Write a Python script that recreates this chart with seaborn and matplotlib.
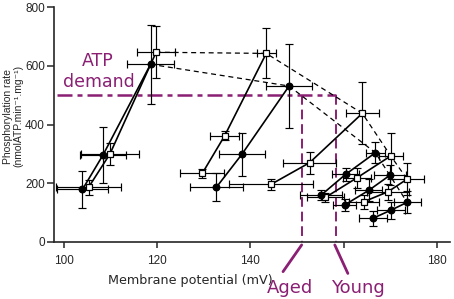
import numpy as np
import pandas as pd
import matplotlib
matplotlib.use("Agg")
import matplotlib.pyplot as plt
import seaborn as sns

sns.set_style("ticks")
plt.rcParams['font.family'] = ['DejaVu Sans']

# ---- data (membrane potential mV, phosphorylation rate, errors) ----
# filled circles (aged)
A_x  = [104.0, 108.4, 118.6];  A_y  = [179, 296, 605]
A_xe = [5.5, 5.0, 5.0];        A_ye = [62, 94, 134]
D_x  = [132.7, 138.2, 148.3];  D_y  = [186, 299, 531]
D_xe = [5.7, 4.9, 5.0];        D_ye = [48, 73, 143]
F1_x = [155.2, 160.4, 166.8];  F1_y = [160, 230, 304]
F1_xe = [4.5, 2.9, 2.0];       F1_ye = [17, 23, 36]
F2_x = [160.2, 165.4, 169.9];  F2_y = [126, 176, 227]
F2_xe = [2.5, 2.9, 3.4];       F2_ye = [20, 37, 34]
F3_x = [166.3, 170.1, 173.6];  F3_y = [81, 108, 135]
F3_xe = [3.0, 3.0, 2.9];       F3_ye = [26, 28, 37]

# open squares (young)
B_x  = [105.3, 109.9, 119.8];  B_y  = [186, 300, 646]
B_xe = [7.0, 6.3, 4.0];        B_ye = [25, 37, 89]
C_x  = [129.7, 134.5, 143.4];  C_y  = [234, 362, 642]
C_xe = [4.7, 3.1, 2.0];        C_ye = [15, 15, 85]
E_x  = [144.4, 152.7, 164.0];  E_y  = [196, 270, 438]
E_xe = [9.0, 5.6, 3.5];        E_ye = [20, 38, 106]
O1_x = [156.1, 162.9, 170.1];  O1_y = [152, 219, 293]
O1_xe = [4.0, 3.0, 2.6];       O1_ye = [15, 34, 78]
O2_x = [164.3, 169.5, 173.6];  O2_y = [137, 171, 214]
O2_xe = [3.2, 4.6, 3.6];       O2_ye = [23, 28, 54]

filled = [(A_x, A_y, A_xe, A_ye), (D_x, D_y, D_xe, D_ye), (F1_x, F1_y, F1_xe, F1_ye),
          (F2_x, F2_y, F2_xe, F2_ye), (F3_x, F3_y, F3_xe, F3_ye)]
opened = [(B_x, B_y, B_xe, B_ye), (C_x, C_y, C_xe, C_ye), (E_x, E_y, E_xe, E_ye),
          (O1_x, O1_y, O1_xe, O1_ye), (O2_x, O2_y, O2_xe, O2_ye)]

atp_demand = 500
aged_mv = 151.1
young_mv = 158.3

x_ticks = [100, 120, 140, 160, 180]
x_ticklabels = ["100", "120", "140", "", "180"]
y_ticks = [0, 200, 400, 600, 800]

purple = "#8a1f73"

fig = plt.figure(figsize=(4.54, 2.99), dpi=100)
ax = fig.add_axes([54/454, 1-242/299, 396/454, 235/299])

# dashed lines connecting top (maximal) points
top_f = pd.DataFrame({"x": [s[0][-1] for s in filled], "y": [s[1][-1] for s in filled]})
top_o = pd.DataFrame({"x": [s[0][-1] for s in opened], "y": [s[1][-1] for s in opened]})
for df in (top_f, top_o):
    sns.lineplot(data=df, x="x", y="y", sort=False, estimator=None, ax=ax,
                 color="black", lw=0.9, dashes=False, linestyle=(0, (4, 3)), zorder=2)

def draw(series, marker, mfc, ms):
    for xs, ys, xe, ye in series:
        ax.errorbar(xs, ys, xerr=xe, yerr=ye, fmt="none", ecolor="black",
                    elinewidth=0.85, capsize=2.6, capthick=0.85, zorder=3)
        df = pd.DataFrame({"x": xs, "y": ys})
        sns.lineplot(data=df, x="x", y="y", sort=False, estimator=None, ax=ax,
                     color="black", lw=1.2, marker=marker, markersize=ms,
                     markerfacecolor=mfc, markeredgecolor="black",
                     markeredgewidth=0.9, zorder=4)

draw(opened, "s", "white", 4.3)
draw(filled, "o", "black", 4.8)

# ATP demand / aged / young annotations
ax.plot([98.5, young_mv], [atp_demand, atp_demand], color=purple, lw=1.8,
        linestyle=(0, (6, 2, 2, 2)), zorder=1)
ax.plot([aged_mv, aged_mv], [atp_demand, 0], color=purple, lw=1.4,
        linestyle=(0, (5, 2.5)), zorder=1)
ax.plot([young_mv, young_mv], [atp_demand, 0], color=purple, lw=1.4,
        linestyle=(0, (5, 2.5)), zorder=1)
ax.plot([147.0, 151.0], [-101, -10], color=purple, lw=2, clip_on=False)
ax.plot([160.9, 158.1], [-107, -10], color=purple, lw=2, clip_on=False)

ax.text(107.2, 600, "ATP", color=purple, fontsize=12.5, ha="center", va="baseline")
ax.text(107.5, 528, "demand", color=purple, fontsize=12.5, ha="center", va="baseline")
ax.text(148.4, -174, "Aged", color=purple, fontsize=13, ha="center", va="baseline", clip_on=False)
ax.text(163.1, -174, "Young", color=purple, fontsize=13, ha="center", va="baseline", clip_on=False)

ax.set_xlim(97.9, 182.8)
ax.set_ylim(0, 800)
ax.set_xticks(x_ticks)
ax.set_xticklabels(x_ticklabels)
ax.set_yticks(y_ticks)
for lab in ax.get_xticklabels() + ax.get_yticklabels():
    lab.set_family(["Liberation Sans Narrow", "Liberation Sans"])
    lab.set_fontsize(8.5)
ax.tick_params(axis="y", length=5, width=1.1, pad=1.5)
ax.tick_params(axis="x", length=4.3, width=1.1, pad=5)
sns.despine(ax=ax)
for s in ("left", "bottom"):
    ax.spines[s].set_linewidth(1.2)

ax.set_xlabel("Membrane potential (mV)", fontsize=9.2)
ax.xaxis.set_label_coords((190-54)/396, (242-274)/235)
ax.set_ylabel("Phosphorylation rate\n(nmolATP.min\u207b\u00b9.mg\u207b\u00b9)", fontsize=7.5,
              family=["Liberation Sans", "DejaVu Sans"], linespacing=1.0)
ax.yaxis.set_label_coords((23-54)/396, 0.536)

fig.savefig("out.png", dpi=100)
